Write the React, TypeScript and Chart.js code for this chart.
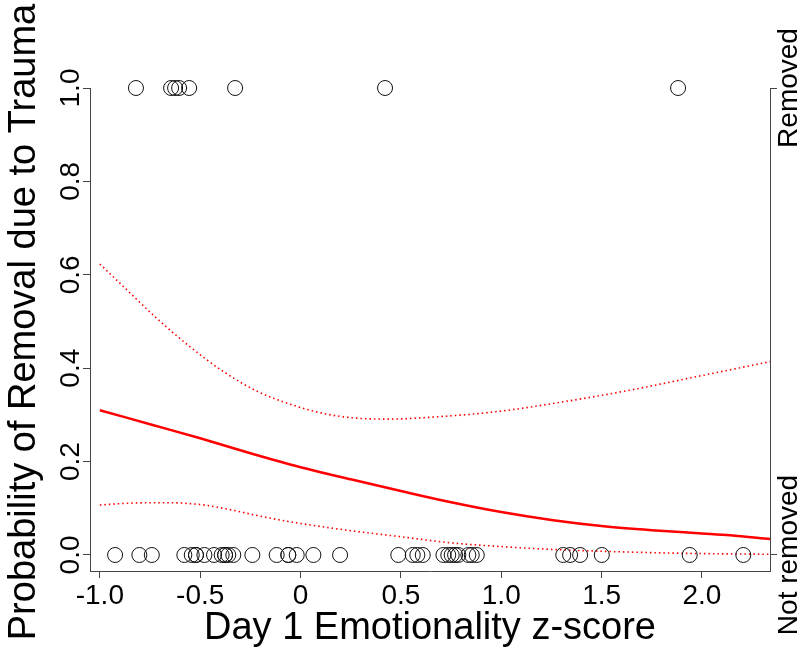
import React, { useEffect, useRef } from 'react';
import { Chart, registerables } from 'chart.js';

Chart.register(...registerables);

// ---- data ----
const removedX = [-0.82, -0.645, -0.625, -0.605, -0.555, -0.326, 0.421, 1.881];
const notRemovedX = [
  -0.924, -0.803, -0.741, -0.579, -0.542, -0.521, -0.521, -0.479, -0.431, -0.393,
  -0.376, -0.376, -0.36, -0.335, -0.24, -0.119, -0.061, -0.061, -0.019, 0.064, 0.197,
  0.487, 0.559, 0.582, 0.609, 0.712, 0.736, 0.753, 0.77, 0.786, 0.836, 0.853, 0.878,
  1.309, 1.343, 1.393, 1.501, 1.939, 2.206,
];

const fitX = [-1.0, -0.75, -0.5, -0.25, 0, 0.25, 0.5, 0.75, 1.0, 1.25, 1.5, 1.75, 2.0, 2.14, 2.339];
const fitY = [0.31, 0.28, 0.25, 0.218, 0.188, 0.162, 0.137, 0.113, 0.092, 0.075, 0.062, 0.053, 0.046, 0.042, 0.034];

const upperX = [-1.0, -0.883, -0.717, -0.551, -0.385, -0.218, -0.052, 0.114, 0.28, 0.446, 0.612, 0.978, 1.309, 1.642, 1.974, 2.339];
const upperY = [0.623, 0.575, 0.507, 0.446, 0.393, 0.351, 0.323, 0.303, 0.293, 0.291, 0.294, 0.307, 0.328, 0.353, 0.382, 0.414];

const lowerX = [-1.0, -0.85, -0.68, -0.5, -0.35, -0.2, -0.05, 0.1, 0.25, 0.5, 0.75, 1.0, 1.25, 1.5, 1.75, 2.0, 2.339];
const lowerY = [0.107, 0.111, 0.112, 0.108, 0.097, 0.083, 0.071, 0.061, 0.052, 0.039, 0.026, 0.018, 0.012, 0.008, 0.005, 0.003, 0.0015];

const xTicks = [-1, -0.5, 0, 0.5, 1, 1.5, 2];
const xTickLabels = ['-1.0', '-0.5', '0', '0.5', '1.0', '1.5', '2.0'];
const yTicks = [0, 0.2, 0.4, 0.6, 0.8, 1.0];
const yTickLabels = ['0.0', '0.2', '0.4', '0.6', '0.8', '1.0'];
const rightTicks = [0, 1];
const rightTickLabels = ['Not removed', 'Removed'];

const xTitle = 'Day 1 Emotionality z-score';
const yTitle = 'Probability of Removal due to Trauma';

const FONT = '"Liberation Sans", Arial, Helvetica, sans-serif';
const AXIS_COLOR = '#444';

const textPlugin = {
  id: 'rotatedText',
  afterDraw(chart: any) {
    const ctx = chart.ctx;
    const y = chart.scales.y;
    const y2 = chart.scales.y2;
    const area = chart.chartArea;
    ctx.save();
    ctx.fillStyle = '#000';
    ctx.textAlign = 'center';
    ctx.textBaseline = 'alphabetic';
    ctx.font = `28px ${FONT}`;
    yTicks.forEach((v, i) => {
      const py = y.getPixelForValue(v);
      ctx.save();
      ctx.translate(79, py);
      ctx.rotate(-Math.PI / 2);
      ctx.fillText(yTickLabels[i], 0, 0);
      ctx.restore();
    });
    rightTicks.forEach((v, i) => {
      const py = y2.getPixelForValue(v);
      ctx.save();
      ctx.translate(797, py);
      ctx.rotate(-Math.PI / 2);
      ctx.fillText(rightTickLabels[i], 0, 0);
      ctx.restore();
    });
    ctx.font = `38px ${FONT}`;
    ctx.save();
    ctx.translate(35, 322);
    ctx.rotate(-Math.PI / 2);
    ctx.fillText(yTitle, 0, 0);
    ctx.restore();
    ctx.fillText(xTitle, (area.left + area.right) / 2, 639);
    ctx.restore();
  },
};

export default function App() {
  const ref = useRef<HTMLCanvasElement | null>(null);

  useEffect(() => {
    if (!ref.current) return;
    const pointDs = (xs: number[], yv: number) => ({
      type: 'scatter' as const,
      data: xs.map((v) => ({ x: v, y: yv })),
      pointRadius: 7.5,
      pointBorderColor: '#111',
      pointBackgroundColor: 'rgba(0,0,0,0)',
      pointBorderWidth: 1,
      showLine: false,
      clip: false as any,
      yAxisID: 'y',
    });
    const lineDs = (xs: number[], ys: number[], width: number, dash: number[]) => ({
      type: 'line' as const,
      data: xs.map((v, i) => ({ x: v, y: ys[i] })),
      borderColor: '#ff0000',
      borderWidth: width,
      borderDash: dash,
      pointRadius: 0,
      showLine: true,
      fill: false,
      cubicInterpolationMode: 'monotone' as const,
      yAxisID: 'y',
    });

    const chart = new Chart(ref.current, {
      type: 'scatter',
      data: {
        datasets: [
          pointDs(removedX, 1),
          pointDs(notRemovedX, 0),
          lineDs(fitX, fitY, 2.5, []),
          lineDs(upperX, upperY, 1.6, [1.5, 3]),
          lineDs(lowerX, lowerY, 1.6, [1.5, 3]),
        ] as any,
      },
      options: {
        animation: false,
        responsive: false,
        events: [],
        layout: { padding: { top: 88, left: 0, right: 0, bottom: 0 } },
        plugins: { legend: { display: false }, tooltip: { enabled: false }, title: { display: false } },
        scales: {
          x: {
            type: 'linear',
            position: 'bottom',
            min: -1.049,
            max: 2.339,
            afterBuildTicks: (s: any) => {
              s.ticks = xTicks.map((v) => ({ value: v }));
            },
            afterFit: (s: any) => {
              s.height = 81;
            },
            ticks: {
              autoSkip: false,
              maxRotation: 0,
              minRotation: 0,
              padding: 1,
              color: '#000',
              font: { size: 28, family: FONT },
              callback: (_v: any, i: number) => xTickLabels[i],
            },
            grid: { drawOnChartArea: false, drawTicks: true, tickLength: 7, color: AXIS_COLOR, lineWidth: 1 },
            border: { display: true, color: AXIS_COLOR, width: 1 },
          },
          y: {
            type: 'linear',
            position: 'left',
            min: -0.0343,
            max: 1,
            afterBuildTicks: (s: any) => {
              s.ticks = yTicks.map((v) => ({ value: v }));
            },
            afterFit: (s: any) => {
              s.width = 90;
            },
            ticks: { display: false },
            grid: { drawOnChartArea: false, drawTicks: true, tickLength: 7, color: AXIS_COLOR, lineWidth: 1 },
            border: { display: true, color: AXIS_COLOR, width: 1 },
          },
          y2: {
            type: 'linear',
            position: 'right',
            min: -0.0343,
            max: 1,
            afterBuildTicks: (s: any) => {
              s.ticks = rightTicks.map((v) => ({ value: v }));
            },
            afterFit: (s: any) => {
              s.width = 30;
            },
            ticks: { display: false },
            grid: { drawOnChartArea: false, drawTicks: true, tickLength: 7, color: AXIS_COLOR, lineWidth: 1 },
            border: { display: true, color: AXIS_COLOR, width: 1 },
          },
        },
      } as any,
      plugins: [textPlugin],
    });
    return () => chart.destroy();
  }, []);

  return (
    <div style={{ position: 'absolute', left: 0, top: 0, width: 800, height: 652, background: '#fff' }}>
      <canvas ref={ref} width={800} height={652} />
    </div>
  );
}
